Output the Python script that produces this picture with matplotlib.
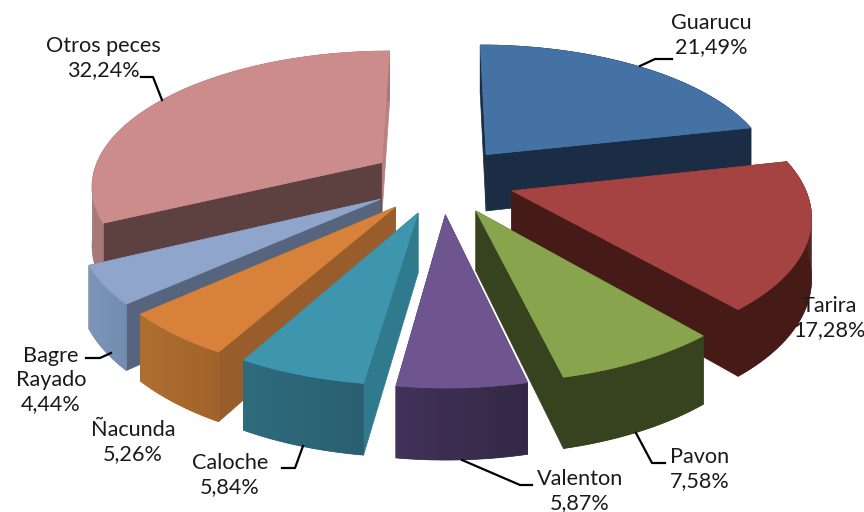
import numpy as np
import matplotlib
matplotlib.use("Agg")
import matplotlib.pyplot as plt
from matplotlib.colors import to_rgb

# ----------------------------
# Data
# ----------------------------
names = ["Guarucu", "Tarira", "Pavon", "Valenton", "Caloche", "Ñacunda", "Bagre\nRayado", "Otros peces"]
shares = [21.49, 17.28, 7.58, 5.87, 5.84, 5.26, 4.44, 32.24]

top_colors = ["#4472a5", "#a54342", "#88a44d", "#6e5590", "#3d96ae", "#d7813b", "#8fa5cc", "#cc8c8c"]
wall_colors = ["#1a2d45", "#451a17", "#37431e", "#3d2e52", "#2f7a8c", "#985d2a", "#56657d", "#5d4040"]
back_wall_colors = ["#1a2d45", "#451a17", "#37431e", "#3d2e52", "#2f7a8c", "#985d2a", "#56657d", "#b98080"]
rim_left = ["#1a2d45", "#451a17", "#37431e", "#42325a", "#2e6c7e", "#b0702f", "#7f97bb", "#a87878"]
rim_right = ["#1a2d45", "#451a17", "#37431e", "#332845", "#2a5f70", "#a0622a", "#718aaf", "#a87878"]

# back to front
draw_order = [7, 0, 6, 1, 5, 2, 4, 3]

# ----------------------------
# Projection of the tilted pie
# ----------------------------
CX, CY = 442, 180
A, B, K = 290.5, 134, 0.156
EXPLODE = 0.25
DEPTH = 58


def project(px, py):
    w = 1 + K * py
    return CX + A * px / w, CY - B * py / w, w


def wedge_points(start, stop):
    mid = (start + stop) / 2
    ox, oy = EXPLODE * np.sin(mid), EXPLODE * np.cos(mid)
    th = np.linspace(start, stop, 60)
    sx, sy, w = project(ox + np.sin(th), oy + np.cos(th))
    ax_, ay_, aw = project(ox, oy)
    return (ax_, ay_, aw), (sx, sy, w)


def shade(c1, c2, t):
    c1, c2 = np.array(to_rgb(c1)), np.array(to_rgb(c2))
    return tuple(c1 + (c2 - c1) * t)


fig = plt.figure(figsize=(8.64, 5.12), dpi=100)
ax = fig.add_axes([0, 0, 1, 1])
ax.set_xlim(0, 864)
ax.set_ylim(512, 0)
ax.axis("off")

edges = np.cumsum([0] + shares) / 100 * 2 * np.pi

for i in draw_order:
    (ax_, ay_, aw), (sx, sy, w) = wedge_points(edges[i], edges[i + 1])
    by = sy + DEPTH / w
    aby = ay_ + DEPTH / aw

    # radial walls
    ax.fill([ax_, sx[-1], sx[-1], ax_], [ay_, sy[-1], by[-1], aby],
            color=back_wall_colors[i], lw=0.5, zorder=1)
    ax.fill([ax_, sx[0], sx[0], ax_], [ay_, sy[0], by[0], aby],
            color=wall_colors[i], lw=0.5, zorder=1)

    # outer wall, shaded along the arc
    ax.fill(np.r_[sx, sx[::-1]], np.r_[sy, by[::-1]], color=shade(rim_left[i], rim_right[i], 0.5), lw=0.5, zorder=1)
    for j in range(len(sx) - 1):
        t = (sx[j] - sx.min()) / max(sx.max() - sx.min(), 1)
        col = shade(rim_left[i], rim_right[i], t)
        ax.fill([sx[j], sx[j + 1], sx[j + 1], sx[j]], [sy[j], sy[j + 1], by[j + 1], by[j]],
                color=col, lw=0, zorder=1)

    ax.fill(np.r_[ax_, sx], np.r_[ay_, sy], color=top_colors[i], lw=0.5, zorder=1)

# ----------------------------
# Labels and leader lines
# ----------------------------
label_xy = [(711, 35), (829, 318), (700, 469), (580, 491), (230, 475), (133, 442), (51, 380), (103, 58)]
leaders = [
    ([640, 655, 672], [66, 59, 59]),
    None,
    ([636, 652, 665], [433, 463, 463]),
    ([462, 520, 532], [460, 485, 485]),
    ([303, 295, 282], [446, 468, 468]),
    None,
    ([111, 100, 86], [353, 358, 358]),
    ([162, 153, 141], [100, 77, 77]),
]

for i, name in enumerate(names):
    x, y = label_xy[i]
    ax.text(x, y, f"{name}\n{shares[i]:.2f}%".replace(".", ","), ha="center", va="center",
            fontsize=15.6, family="Lato", color="#1a1a1a", linespacing=1.28, zorder=5)
    if leaders[i]:
        ax.plot(leaders[i][0], leaders[i][1], color="black", lw=1.6, zorder=4)

fig.savefig("out.png", dpi=100)
